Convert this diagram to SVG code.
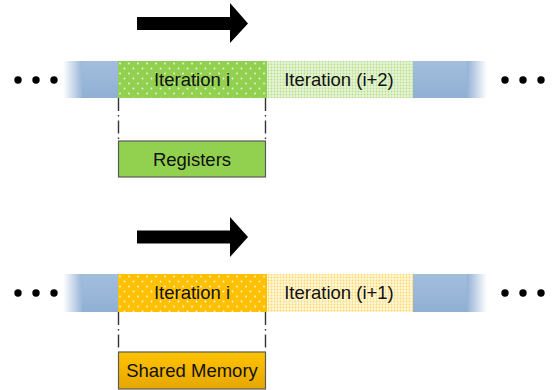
<svg xmlns="http://www.w3.org/2000/svg" width="555" height="390" viewBox="0 0 555 390">
<style>
.lbl{font-family:"Liberation Sans","DejaVu Sans",sans-serif;font-size:18.5px;fill:#111;text-anchor:middle;dominant-baseline:central}
.dash{stroke:#333;stroke-width:1.4;stroke-dasharray:13,4,1.5,4;fill:none}
.dot{fill:#000}
.box{stroke:#5a5a5a;stroke-width:1.2}
</style>
<defs>
<linearGradient id="fadeL" x1="0" x2="1" y1="0" y2="0"><stop offset="0" stop-color="#95B3D7" stop-opacity="0"/><stop offset="1" stop-color="#95B3D7"/></linearGradient>
<linearGradient id="fadeR" x1="0" x2="1" y1="0" y2="0"><stop offset="0" stop-color="#95B3D7"/><stop offset="1" stop-color="#95B3D7" stop-opacity="0"/></linearGradient>
<linearGradient id="blue" x1="0" x2="0" y1="0" y2="1"><stop offset="0" stop-color="#a3bedd"/><stop offset="1" stop-color="#8fb0d3"/></linearGradient>
<linearGradient id="orgBox" x1="0" x2="0" y1="0" y2="1"><stop offset="0" stop-color="#FFC300"/><stop offset="1" stop-color="#E6A700"/></linearGradient>
<pattern id="gDots" width="9" height="10" patternUnits="userSpaceOnUse" x="118" y="61">
<rect width="9" height="10" fill="#92D050"/>
<circle cx="2" cy="2.5" r="0.9" fill="#fff" opacity="0.8"/><circle cx="6.5" cy="7.5" r="0.9" fill="#fff" opacity="0.8"/>
</pattern>
<pattern id="oDots" width="9" height="10" patternUnits="userSpaceOnUse" x="118" y="274">
<rect width="9" height="10" fill="#FFC000"/>
<circle cx="2" cy="2.5" r="0.9" fill="#fff" opacity="0.85"/><circle cx="6.5" cy="7.5" r="0.9" fill="#fff" opacity="0.85"/>
</pattern>
<pattern id="gLight" width="3" height="3" patternUnits="userSpaceOnUse">
<rect width="3" height="3" fill="#e6f4d6"/><circle cx="1.5" cy="1.5" r="0.9" fill="#b8e08c"/>
</pattern>
<pattern id="oLight" width="3" height="3" patternUnits="userSpaceOnUse">
<rect width="3" height="3" fill="#fff6da"/><circle cx="1.5" cy="1.5" r="0.9" fill="#ffd966"/>
</pattern>
</defs>

<g id="row-top">
<circle class="dot" cx="18" cy="80" r="3.7"/><circle class="dot" cx="36" cy="80" r="3.7"/><circle class="dot" cx="54" cy="80" r="3.7"/>
<rect x="63" y="61" width="20" height="37" fill="url(#fadeL)"/>
<rect x="82" y="61" width="36" height="37" fill="url(#blue)"/>
<rect x="413" y="61" width="55" height="37" fill="url(#blue)"/>
<rect x="467" y="61" width="20" height="37" fill="url(#fadeR)"/>
<circle class="dot" cx="505" cy="80" r="3.7"/><circle class="dot" cx="523" cy="80" r="3.7"/><circle class="dot" cx="541" cy="80" r="3.7"/>
</g>
<g id="iter-i-top">
<rect x="118" y="61" width="147" height="37" fill="url(#gDots)"/>
<text class="lbl" x="192" y="79">Iteration i</text>
</g>
<g id="iter-i2-top">
<rect x="265" y="61" width="148" height="37" fill="url(#gLight)"/>
<rect x="265" y="61" width="2" height="37" fill="#92D050"/>
<text class="lbl" x="339" y="79">Iteration (i+2)</text>
</g>
<g id="registers">
<rect class="box" x="118.5" y="141" width="147" height="36" fill="#92D050"/>
<text class="lbl" x="192" y="159">Registers</text>
</g>
<g id="arrow-top">
<polygon points="137,17 230,17 230,3 248,23.5 230,43 230,30 137,30" fill="#000"/>
</g>

<g id="row-bottom">
<circle class="dot" cx="18" cy="293" r="3.7"/><circle class="dot" cx="36" cy="293" r="3.7"/><circle class="dot" cx="54" cy="293" r="3.7"/>
<rect x="63" y="274" width="20" height="38" fill="url(#fadeL)"/>
<rect x="82" y="274" width="36" height="38" fill="url(#blue)"/>
<rect x="413" y="274" width="55" height="38" fill="url(#blue)"/>
<rect x="467" y="274" width="20" height="38" fill="url(#fadeR)"/>
<circle class="dot" cx="505" cy="293" r="3.7"/><circle class="dot" cx="523" cy="293" r="3.7"/><circle class="dot" cx="541" cy="293" r="3.7"/>
</g>
<g id="iter-i-bottom">
<rect x="118" y="274" width="147" height="38" fill="url(#oDots)"/>
<text class="lbl" x="192" y="292">Iteration i</text>
</g>
<g id="iter-i1-bottom">
<rect x="265" y="274" width="148" height="38" fill="url(#oLight)"/>
<rect x="265" y="274" width="2" height="38" fill="#FFC000"/>
<text class="lbl" x="339" y="292">Iteration (i+1)</text>
</g>
<g id="shared-memory">
<rect class="box" x="118.5" y="352" width="147" height="37" fill="url(#orgBox)"/>
<text class="lbl" x="192" y="370.5">Shared Memory</text>
</g>
<g id="arrow-bottom">
<polygon points="137,230.5 230,230.5 230,217 248,237 230,257 230,243.5 137,243.5" fill="#000"/>
</g>

<g id="connectors">
<line class="dash" x1="118.5" y1="98" x2="118.5" y2="139"/>
<line class="dash" x1="265.5" y1="98" x2="265.5" y2="139"/>
<line class="dash" x1="118.5" y1="312" x2="118.5" y2="350"/>
<line class="dash" x1="265.5" y1="312" x2="265.5" y2="350"/>
</g>
</svg>
